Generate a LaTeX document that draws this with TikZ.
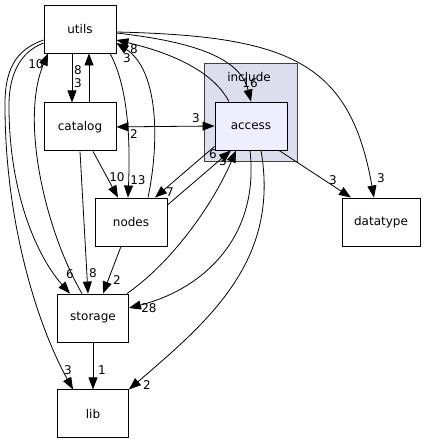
\documentclass[tikz,border=0pt]{standalone}
\usepackage{fontspec}
\setmainfont{DejaVu Sans}
\usepackage{xcolor}
\usetikzlibrary{arrows.meta,positioning}

\definecolor{clusterfill}{HTML}{DDDDEE}
\definecolor{accessfill}{HTML}{EEEEFF}

\begin{document}
\begin{tikzpicture}[x=1pt, y=1pt,
    dirbox/.style={draw, line width=0.9pt, fill=white, inner sep=0pt, minimum width=72pt, minimum height=48pt, font=\fontsize{12}{14}\selectfont},
    accessbox/.style={dirbox, fill=accessfill},
    clusterbox/.style={draw=black!75, line width=0.9pt, fill=clusterfill, inner sep=0pt, minimum width=93pt, minimum height=98pt},
    edge/.style={-{Triangle[length=12pt,width=9pt]}, line width=0.8pt},
    biedge/.style={{Triangle[length=12pt,width=9pt]}-{Triangle[length=12pt,width=9pt]}, line width=0.8pt},
    lbl/.style={inner sep=0pt, font=\fontsize{12}{14}\selectfont}
]
\useasboundingbox (0,0) rectangle (426,-444);
\node[clusterbox] (include) at (250.5,-112) {};
\node[lbl] (includename) at (249,-77) {include};
\node[dirbox] (utils) at (80,-29) {utils};
\node[dirbox, below=49pt of utils] (catalog) {catalog};
\node[accessbox] (access) at (251,-126) {access};
\node[dirbox] (nodes) at (131,-222) {nodes};
\node[dirbox, minimum width=78pt] (datatype) at (381,-222) {datatype};
\node[dirbox, minimum width=71pt] (storage) at (93,-318) {storage};
\node[dirbox, minimum width=71pt, below=47pt of storage] (lib) {lib};
% edges
\draw[edge] ([xshift=-8pt]utils.south) -- ([xshift=-8pt]catalog.north);
\draw[edge] ([xshift=9pt]catalog.north) -- ([xshift=9pt]utils.south);
\draw[biedge] (catalog.east) -- (access.west);
\draw[edge] ([yshift=-4pt]utils.east) .. controls (195,-42) and (240,-58) .. (access.north);
\draw[edge] ([xshift=-22pt]access.north) .. controls (215,-75) and (180,-55) .. ([yshift=-11pt]utils.east);
\draw[edge] ([yshift=-3pt]utils.east) .. controls (290,-36) and (350,-62) .. ([xshift=-7pt]datatype.north);
\draw[edge] ([xshift=30pt]utils.south) .. controls (130,-90) and (130,-150) .. ([xshift=-3pt]nodes.north);
\draw[edge] ([xshift=17pt]nodes.north) .. controls (160,-140) and (158,-70) .. ([yshift=-14pt]utils.east);
\draw[edge] ([xshift=13pt]catalog.south) -- ([xshift=-13pt]nodes.north);
\draw[edge] ([yshift=4pt]access.south west) -- ([xshift=24pt]nodes.north);
\draw[edge] ([yshift=17pt]nodes.east) -- ([xshift=-20pt]access.south);
\draw[edge] ([xshift=34pt]storage.north) .. controls (175,-260) and (215,-200) .. ([xshift=-15pt]access.south);
\draw[edge] ([xshift=-1pt]access.south) .. controls (260,-240) and (200,-290) .. ([yshift=10pt]storage.east);
\draw[edge] ([xshift=10pt]access.south) .. controls (280,-260) and (210,-320) .. (lib.north east);
\draw[edge] ([xshift=28pt]access.south) -- ([xshift=-30pt]datatype.north);
\draw[edge] ([xshift=-10pt]nodes.south) -- ([xshift=10pt]storage.north);
\draw[edge] (catalog.south) -- ([xshift=-5pt]storage.north);
\draw[edge] ([yshift=-14pt]utils.west) .. controls (20,-52) and (8,-75) .. (9,-110) .. controls (10,-200) and (40,-260) .. ([xshift=-23pt]storage.north);
\draw[edge] ([yshift=-11pt]utils.west) .. controls (15,-50) and (4,-70) .. (5,-110) .. controls (6,-230) and (40,-330) .. ([xshift=-20pt]lib.north);
\draw[edge] ([xshift=-11pt]storage.north) .. controls (45,-230) and (20,-120) .. ([xshift=-32pt]utils.south);
\draw[edge] (storage.south) -- (lib.north);
% edge labels
\node[lbl] (l1) at (78,-70) {8};
\node[lbl] (l2) at (78,-83) {3};
\node[lbl] (l3) at (196,-118) {3};
\node[lbl] (l4) at (134,-134) {2};
\node[lbl] (l5) at (250,-83) {16};
\node[lbl] (l6) at (381,-178) {3};
\node[lbl] (l7) at (333,-180) {3};
\node[lbl] (l8) at (127,-58) {3};
\node[lbl] (l9) at (134,-49) {8};
\node[lbl] (l10) at (36,-64) {10};
\node[lbl] (l11) at (138,-180) {13};
\node[lbl] (l12) at (117,-177) {10};
\node[lbl] (l13) at (170,-192) {7};
\node[lbl] (l14) at (213,-154) {6};
\node[lbl] (l15) at (223,-161) {3};
\node[lbl] (l16) at (70,-274) {6};
\node[lbl] (l17) at (93,-273) {8};
\node[lbl] (l18) at (117,-280) {2};
\node[lbl] (l19) at (149,-308) {28};
\node[lbl] (l20) at (68,-370) {3};
\node[lbl] (l21) at (102,-370) {1};
\node[lbl] (l22) at (147,-385) {2};
\end{tikzpicture}
\end{document}
